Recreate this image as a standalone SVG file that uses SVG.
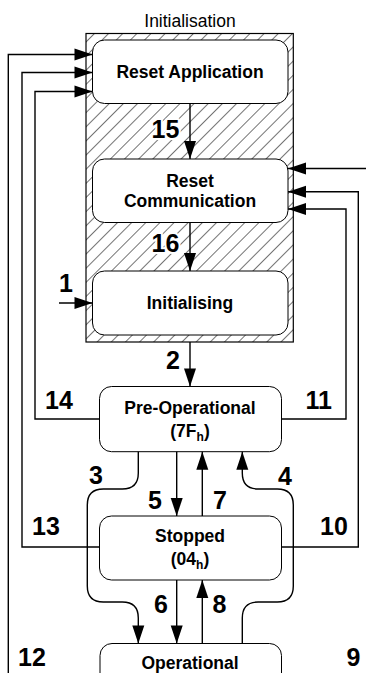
<svg xmlns="http://www.w3.org/2000/svg" width="366" height="673" viewBox="0 0 366 673">
  <defs>
    <pattern id="hatch" patternUnits="userSpaceOnUse" width="10" height="10" patternTransform="rotate(45)">
      <line x1="0" y1="0" x2="0" y2="10" stroke="#000" stroke-width="1.1"/>
    </pattern>
    <marker id="arrow" markerUnits="userSpaceOnUse" markerWidth="18" markerHeight="12" refX="18" refY="6" orient="auto" overflow="visible">
      <path d="M0,0 L18,6 L0,12 Z" fill="#000"/>
    </marker>
    <style>
      .state { fill: #fff; stroke: #000; stroke-width: 1; }
      .name { font-family: "Liberation Sans", Arial, sans-serif; font-weight: bold; font-size: 17.5px; text-anchor: middle; fill: #000; }
      .sub { font-size: 12px; }
      .num { font-family: "Liberation Sans", Arial, sans-serif; font-weight: bold; font-size: 25px; fill: #000; }
      .halo { stroke: #fff; stroke-width: 4; paint-order: stroke; stroke-linejoin: round; }
      .title { font-family: "Liberation Sans", Arial, sans-serif; font-size: 17.5px; text-anchor: middle; fill: #000; }
      .link { fill: none; stroke: #000; stroke-width: 1.4; marker-end: url(#arrow); }
    </style>
  </defs>

  <rect width="366" height="673" fill="#fff"/>

  <!-- Initialisation super-state with hatched fill -->
  <g id="initialisation">
    <text class="title" x="190" y="26.5">Initialisation</text>
    <rect x="86" y="33.5" width="207.3" height="308.5" fill="url(#hatch)" stroke="#000" stroke-width="1.2"/>
  </g>

  <g id="reset-application">
    <rect class="state" x="92.5" y="40" width="195.5" height="63.5" rx="12"/>
    <text class="name" x="190" y="77.5">Reset Application</text>
  </g>

  <g id="reset-communication">
    <rect class="state" x="92.5" y="159" width="195.5" height="63.5" rx="12"/>
    <text class="name" x="190" y="186.7">Reset</text>
    <text class="name" x="190" y="206.7">Communication</text>
  </g>

  <g id="initialising">
    <rect class="state" x="92.5" y="271" width="195.5" height="64" rx="12"/>
    <text class="name" x="190" y="309.3">Initialising</text>
  </g>

  <g id="pre-operational">
    <rect class="state" x="99.5" y="386.5" width="182" height="65.2" rx="12"/>
    <text class="name" x="190" y="413.5">Pre-Operational</text>
    <text class="name" x="190" y="437">(7F<tspan class="sub" dy="4">h</tspan><tspan dy="-4">)</tspan></text>
  </g>

  <g id="stopped">
    <rect class="state" x="99.5" y="516" width="182" height="64" rx="12"/>
    <text class="name" x="190" y="541.7">Stopped</text>
    <text class="name" x="190" y="565">(04<tspan class="sub" dy="4">h</tspan><tspan dy="-4">)</tspan></text>
  </g>

  <g id="operational">
    <rect class="state" x="100" y="643.5" width="181.5" height="60" rx="12"/>
    <text class="name" x="190" y="668.5">Operational</text>
  </g>

  <!-- Transitions -->
  <g id="connectors">
    <path id="t15" class="link" d="M190,103.5 V159"/>
    <path id="t16" class="link" d="M190,222.5 V271"/>
    <path id="t1" class="link" d="M59,303 H92.5"/>
    <path id="t2" class="link" d="M190,342 V386.5"/>
    <path id="t5" class="link" d="M176.7,451.7 V516"/>
    <path id="t7" class="link" d="M202.3,516 V451.7"/>
    <path id="t6" class="link" d="M176.7,580 V643.5"/>
    <path id="t8" class="link" d="M202.3,643.5 V580"/>
    <path id="t3" class="link" d="M138.3,451.7 V473 Q138.3,489 122.3,489 H103.3 Q87.3,489 87.3,505 V586 Q87.3,602 103.3,602 H122.3 Q138.3,602 138.3,618 V643.5"/>
    <path id="t4" class="link" d="M242.3,643.5 V618 Q242.3,602 258.3,602 H277.3 Q293.3,602 293.3,586 V505 Q293.3,489 277.3,489 H258.3 Q242.3,489 242.3,473 V451.7"/>
    <path id="t14" class="link" d="M99.5,419 H35 V91.5 H92.5"/>
    <path id="t13" class="link" d="M99.5,547 H22 V72.5 H92.5"/>
    <path id="t12" class="link" d="M8.3,690 V54.5 H92.5"/>
    <path id="t11" class="link" d="M281.5,419 H346 V209 H288"/>
    <path id="t10" class="link" d="M281.5,547 H358.3 V191.7 H288"/>
    <path id="t9" class="link" d="M372,168.5 H288"/>
  </g>

  <!-- Transition numbers -->
  <g id="labels">
    <text class="num halo" x="151.5" y="137.7">15</text>
    <text class="num halo" x="151.5" y="251.7">16</text>
    <text class="num" x="59" y="291.7">1</text>
    <text class="num" x="166" y="369">2</text>
    <text class="num" x="45" y="409">14</text>
    <text class="num" x="305.5" y="409">11</text>
    <text class="num" x="89" y="484">3</text>
    <text class="num" x="278" y="485">4</text>
    <text class="num" x="148" y="509.3">5</text>
    <text class="num" x="213" y="509.3">7</text>
    <text class="num" x="32" y="535">13</text>
    <text class="num" x="320" y="535">10</text>
    <text class="num" x="154" y="613">6</text>
    <text class="num" x="212.5" y="613">8</text>
    <text class="num" x="18" y="666">12</text>
    <text class="num" x="346.5" y="666">9</text>
  </g>
</svg>
